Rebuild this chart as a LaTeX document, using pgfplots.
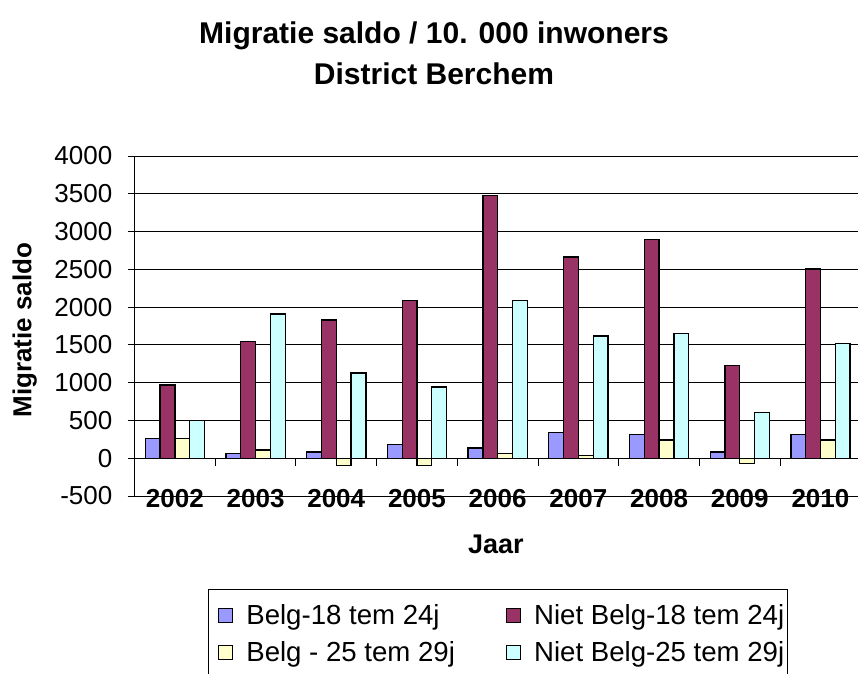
\documentclass[border=0pt]{standalone}
\usepackage{fontspec}
\setmainfont{Liberation Sans}
\usepackage{pgfplots}
\usepackage{pgfplotstable}
\pgfplotsset{compat=1.18}

\definecolor{belgA}{HTML}{9999FF}
\definecolor{nbelgA}{HTML}{993366}
\definecolor{belgB}{HTML}{FFFFCC}
\definecolor{nbelgB}{HTML}{CCFFFF}

% migratiesaldo per 10.000 inwoners, jaren 2002-2010 op x = 0..8
\pgfplotstableread{
x  b18  nb18  b25  nb25
0  265   970  265   498
1   62  1544  110  1910
2   84  1830  -97  1129
3  185  2086  -97   944
4  137  3475   66  2086
5  344  2664   35  1619
6  318  2897  243  1649
7   84  1226  -71   604
8  318  2505  243  1517
}\migratie

\begin{document}
\begin{tikzpicture}
  \useasboundingbox (0,0) rectangle (858pt,673pt);
  \clip (0,0) rectangle (858pt,673pt);
  \begin{axis}[
      at={(134.5pt,177pt)}, anchor=south west,
      scale only axis,
      width=726.3pt, height=340pt,
      ybar=0pt, bar width=14.8pt,
      xmin=-0.5, xmax=8.5,
      ymin=-500, ymax=4000,
      xtick={0,...,8},
      xticklabels={2002,2003,2004,2005,2006,2007,2008,2009,2010},
      ytick={-500,0,...,4000},
      axis x line*=bottom, axis y line*=left,
      axis line style={-, line width=1pt},
      x tick style={draw=none},
      y tick style={black, line width=1pt},
      tick align=outside, major tick length=7pt,
      ymajorgrids,
      grid style={black, line width=1pt},
      /pgf/number format/assume math mode=true,
      /pgf/number format/set thousands separator={},
      yticklabel style={font=\fontsize{26}{30}\selectfont, inner sep=0pt, xshift=-15pt},
      xticklabel style={font=\bfseries\fontsize{26}{30}\selectfont, anchor=center, yshift=4pt},
      ylabel={Migratie saldo},
      ylabel style={at={(axis description cs:-0.151,0.488)}, anchor=center,
        font=\bfseries\fontsize{26}{30}\selectfont},
      xlabel={Jaar},
      xlabel style={at={(axis description cs:0.4977,-0.141)}, anchor=center,
        font=\bfseries\fontsize{27}{30}\selectfont},
      legend columns=2,
      legend cell align=left,
      legend image code/.code={%
        \path (0pt,0pt);
        \draw[#1, line width=1pt] (7pt,-7pt) rectangle (21pt,7pt);},
      legend style={
        at={(axis description cs:0.1008,-0.2735)}, anchor=north west,
        draw=black, line width=1pt,
        font=\fontsize{27.6}{32}\selectfont,
        inner xsep=3pt, inner ysep=15pt,
        nodes={inner sep=0pt},
        row sep=16pt,
        /tikz/every odd column/.append style={column sep=13pt},
        /tikz/every even column/.append style={column sep=44pt},
      },
    ]
    \addplot[fill=belgA, draw=black, line width=1.3pt] table[x=x, y=b18] {\migratie};
    \addlegendentry{Belg-18 tem 24j}
    \addplot[fill=nbelgA, draw=black, line width=1.3pt] table[x=x, y=nb18] {\migratie};
    \addlegendentry{Niet Belg-18 tem 24j}
    \addplot[fill=belgB, draw=black, line width=1.3pt] table[x=x, y=b25] {\migratie};
    \addlegendentry{Belg - 25 tem 29j}
    \addplot[fill=nbelgB, draw=black, line width=1.3pt] table[x=x, y=nb25] {\migratie};
    \addlegendentry{Niet Belg-25 tem 29j}
    % categorie-as op nul met streepjes tussen de jaren
    \draw[black, line width=1pt] (axis cs:-0.5,0) -- (axis cs:8.5,0);
    \pgfplotsinvokeforeach{0.5,1.5,2.5,3.5,4.5,5.5,6.5,7.5}{
      \draw[black, line width=1pt] (axis cs:#1,0) -- (axis cs:#1,-106);
    }
  \end{axis}
  \node[anchor=base, font=\bfseries\fontsize{30}{36}\selectfont] at (434pt,629pt)
    {Migratie saldo / 10. 000 inwoners};
  \node[anchor=base, font=\bfseries\fontsize{30}{36}\selectfont] at (434pt,588pt)
    {District Berchem};
\end{tikzpicture}
\end{document}
